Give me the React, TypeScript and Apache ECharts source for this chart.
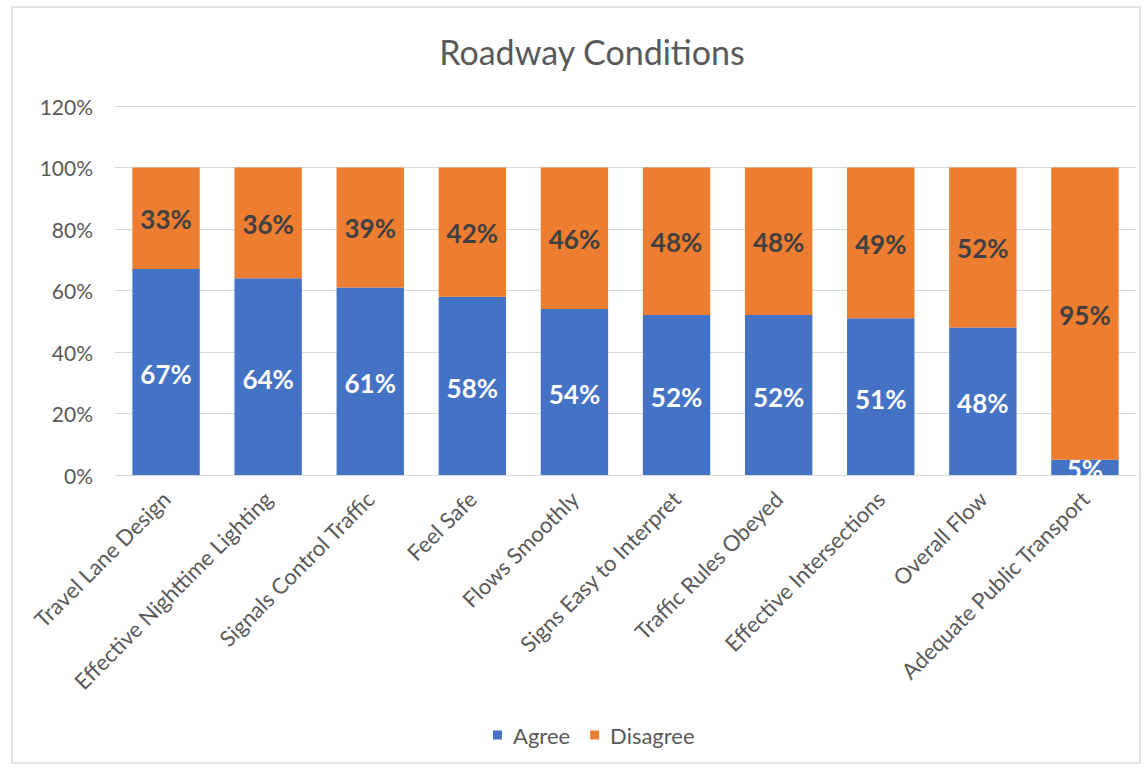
import React, { useEffect, useRef } from "react";
import * as echarts from "echarts";

const categories = [
  "Travel Lane Design",
  "Effective Nighttime Lighting",
  "Signals Control Traffic",
  "Feel Safe",
  "Flows Smoothly",
  "Signs Easy to Interpret",
  "Traffic Rules Obeyed",
  "Effective Intersections",
  "Overall Flow",
  "Adequate Public Transport",
];
const agree = [67, 64, 61, 58, 54, 52, 52, 51, 48, 5];
const disagree = [33, 36, 39, 42, 46, 48, 48, 49, 52, 95];

const FONT = "Lato, 'Open Sans', sans-serif";

export default function App() {
  const ref = useRef<HTMLDivElement>(null);
  useEffect(() => {
    if (!ref.current) return;
    const chart = echarts.init(ref.current, null, { renderer: "svg" });
    chart.setOption({
      animation: false,
      backgroundColor: "#ffffff",
      textStyle: { fontFamily: FONT },
      graphic: [
        {
          type: "rect",
          shape: { x: 12, y: 7, width: 1128, height: 756 },
          style: { fill: "none", stroke: "#d9d9d9", lineWidth: 1.5 },
          silent: true,
        },
      ],
      title: {
        text: "Roadway Conditions",
        left: 587,
        textAlign: "center",
        top: 29,
        textStyle: { fontFamily: FONT, fontSize: 34, fontWeight: "normal", color: "#595959" },
      },
      legend: {
        bottom: 20,
        left: 488,
        icon: "rect",
        itemWidth: 9,
        itemHeight: 9,
        itemGap: 20,
        textStyle: { fontFamily: FONT, fontSize: 22, color: "#595959", padding: [0, 0, 0, 6] },
        data: ["Agree", "Disagree"],
      },
      grid: { left: 115, right: 9, top: 106, bottom: 296, containLabel: false },
      xAxis: {
        type: "category",
        data: categories,
        axisLine: { lineStyle: { color: "#d9d9d9" } },
        axisTick: { show: false },
        axisLabel: {
          rotate: 45,
          interval: 0,
          margin: 20,
          fontFamily: FONT,
          fontSize: 22,
          color: "#595959",
        },
      },
      yAxis: {
        type: "value",
        min: 0,
        max: 120,
        interval: 20,
        axisLine: { show: false },
        axisTick: { show: false },
        splitLine: { lineStyle: { color: "#d9d9d9", width: 1 } },
        axisLabel: {
          formatter: "{value}%",
          margin: 22,
          fontFamily: FONT,
          fontSize: 21,
          color: "#595959",
        },
      },
      series: [
        {
          name: "Agree",
          type: "bar",
          stack: "total",
          barWidth: "66%",
          data: agree,
          itemStyle: { color: "#4472C4" },
          label: {
            show: true,
            position: "inside",
            formatter: "{c}%",
            fontFamily: FONT,
            fontSize: 26,
            fontWeight: "bold",
            color: "#ffffff",
            offset: [0, 2],
          },
        },
        {
          name: "Disagree",
          type: "bar",
          stack: "total",
          barWidth: "66%",
          data: disagree,
          itemStyle: { color: "#ED7D31" },
          label: {
            show: true,
            position: "inside",
            formatter: "{c}%",
            fontFamily: FONT,
            fontSize: 26,
            fontWeight: "bold",
            color: "#404040",
            offset: [0, 1],
          },
        },
      ],
    });
    return () => chart.dispose();
  }, []);
  return (
    <div
      ref={ref}
      style={{ position: "absolute", left: 0, top: 0, width: 1145, height: 771 }}
    />
  );
}
